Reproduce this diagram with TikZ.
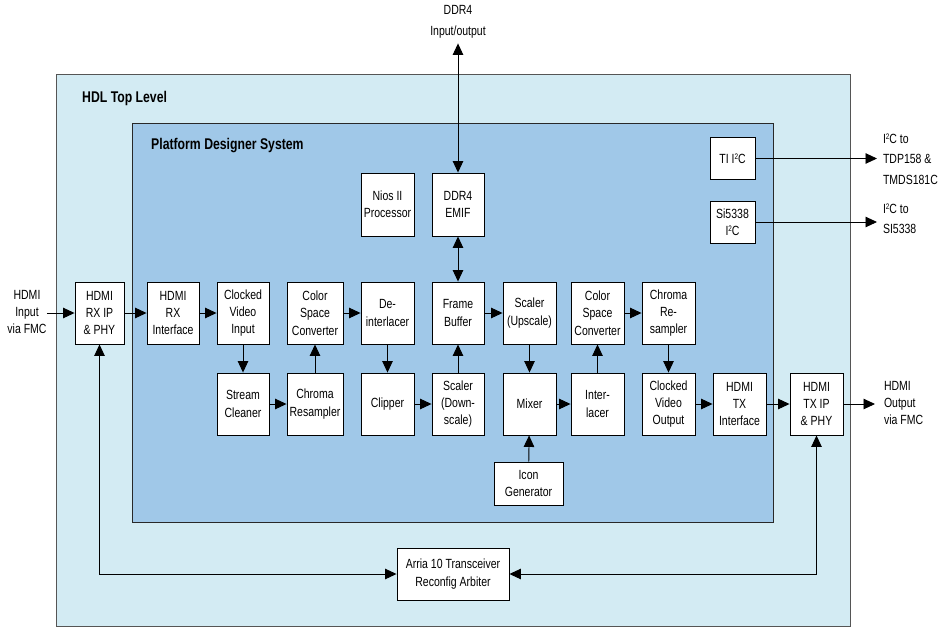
\documentclass[tikz,border=0pt]{standalone}
\usepackage{fontspec}
\setmainfont[FakeStretch=0.79]{Liberation Sans}
\usetikzlibrary{arrows.meta}
\definecolor{outerfill}{RGB}{211,235,243}
\definecolor{innerfill}{RGB}{160,200,232}
\definecolor{outerdraw}{RGB}{85,85,85}
\definecolor{innerdraw}{RGB}{40,40,40}
\newcommand{\sqd}{\raisebox{0.55ex}{\fontsize{8}{8}\selectfont 2}}
\begin{document}
\begin{tikzpicture}[x=1pt,y=-1pt,
  blk/.style={draw=black, fill=white, line width=0.9pt, align=center, inner sep=0pt,
    minimum width=52pt, minimum height=62pt, font=\fontsize{13.3}{17.4}\selectfont},
  lbl/.style={align=center, inner sep=0pt, font=\fontsize{13.3}{17.4}\selectfont},
  wide/.style={font=\fontsize{13.3}{20.5}\selectfont},
  ar/.style={line width=0.9pt, -{Triangle[length=11.5pt,width=10.5pt]}},
  dar/.style={line width=0.9pt, {Triangle[length=11.5pt,width=10.5pt]}-{Triangle[length=11.5pt,width=10.5pt]}},
  ttl/.style={font=\fontsize{15.5}{18}\selectfont\bfseries, anchor=west, inner sep=0pt}]
\useasboundingbox (0,0) rectangle (939,632);

% containers
\node[draw=outerdraw, fill=outerfill, line width=1pt, minimum width=794pt, minimum height=552pt, inner sep=0pt] (hdl) at (453,350) {};
\node[draw=innerdraw, fill=innerfill, line width=0.9pt, minimum width=641pt, minimum height=399pt, inner sep=0pt] (pds) at (452.5,322.5) {};
\node[ttl] (hdlt) at (82,98) {HDL Top Level};
\node[ttl] (pdst) at (151,146) {Platform Designer System};

% row 1
\node[blk, minimum width=49pt] (rxip) at (99.5,313) {HDMI\\RX IP\\\& PHY};
\node[blk] (rxif) at (173,313) {HDMI\\RX\\Interface};
\node[blk] (cvi) at (243,313) {Clocked\\Video\\Input};
\node[blk, minimum width=56pt] (csca) at (315,313) {Color\\Space\\Converter};
\node[blk, minimum width=53pt] (deint) at (387.5,313) {De-\\interlacer};
\node[blk] (fb) at (458,313) {Frame\\Buffer};
\node[blk, minimum width=53pt] (sup) at (529.5,313) {Scaler\\(Upscale)};
\node[blk, minimum width=53pt] (cscb) at (597.5,313) {Color\\Space\\Converter};
\node[blk, minimum width=53pt] (crs) at (668.5,313) {Chroma\\Re-\\sampler};

% row 2
\node[blk] (sc) at (243,404) {Stream\\Cleaner};
\node[blk, minimum width=56pt] (cr) at (315,404) {Chroma\\Resampler};
\node[blk, minimum width=53pt] (clip) at (387.5,404) {Clipper};
\node[blk] (sdn) at (458,404) {Scaler\\(Down-\\scale)};
\node[blk, minimum width=53pt] (mix) at (529.5,404) {Mixer};
\node[blk, minimum width=53pt] (il) at (597.5,404) {Inter-\\lacer};
\node[blk, minimum width=53pt] (cvo) at (668.5,404) {Clocked\\Video\\Output};
\node[blk, minimum width=53pt] (txif) at (739.5,404) {HDMI\\TX\\Interface};
\node[blk, minimum width=53pt] (txip) at (816.5,404) {HDMI\\TX IP\\\& PHY};

% others
\node[blk, minimum width=69pt, minimum height=43pt] (icon) at (528.5,483.5) {Icon\\Generator};
\node[blk, minimum width=53pt, minimum height=63pt] (nios) at (387.5,204.5) {Nios II\\Processor};
\node[blk, minimum height=63pt] (emif) at (458,204.5) {DDR4\\EMIF};
\node[blk, minimum width=45pt, minimum height=42pt] (ti) at (732.5,158.5) {TI I\sqd C};
\node[blk, minimum width=45pt, minimum height=42pt] (si) at (732.5,222) {Si5338\\I\sqd C};
\node[blk, minimum width=112pt, minimum height=52pt] (arria) at (453,574) {Arria 10 Transceiver\\Reconfig Arbiter};

% outside labels
\node[lbl] (hin) at (27,312) {HDMI\\Input\\via FMC};
\node[lbl, wide, inner ysep=5pt] (ddr) at (458,22) {DDR4\\Input/output};
\node[lbl, wide, align=left, anchor=west, outer sep=6pt] (til) at (877,159) {I\sqd C to\\TDP158 \&\\TMDS181C};
\node[lbl, wide, align=left, anchor=west, outer sep=6pt] (sil) at (877,219) {I\sqd C to\\SI5338};
\node[lbl, align=left, anchor=west, outer sep=9pt] (hout) at (875,403) {HDMI\\Output\\via FMC};

% connectors
\draw[ar] (hin.east |- rxip.west) -- (rxip.west);
\draw[ar] (rxip) -- (rxif);
\draw[ar] (rxif) -- (cvi);
\draw[ar] (cvi) -- (sc);
\draw[ar] (sc) -- (cr);
\draw[ar] (cr) -- (csca);
\draw[ar] (csca) -- (deint);
\draw[ar] (deint) -- (clip);
\draw[ar] (clip) -- (sdn);
\draw[ar] (sdn) -- (fb);
\draw[dar] (fb) -- (emif);
\draw[dar] (emif) -- (ddr);
\draw[ar] (fb) -- (sup);
\draw[ar] (sup) -- (mix);
\draw[ar] (icon) -- (mix);
\draw[ar] (mix) -- (il);
\draw[ar] (il) -- (cscb);
\draw[ar] (cscb) -- (crs);
\draw[ar] (crs) -- (cvo);
\draw[ar] (cvo) -- (txif);
\draw[ar] (txif) -- (txip);
\draw[ar] (txip.east) -- (txip.east -| hout.west);
\draw[ar] (ti.east) -- (ti.east -| til.west);
\draw[ar] (si.east) -- (si.east -| sil.west);
\draw[dar] (arria.west) -| (rxip.south);
\draw[dar] (arria.east) -| (txip.south);
\end{tikzpicture}
\end{document}
